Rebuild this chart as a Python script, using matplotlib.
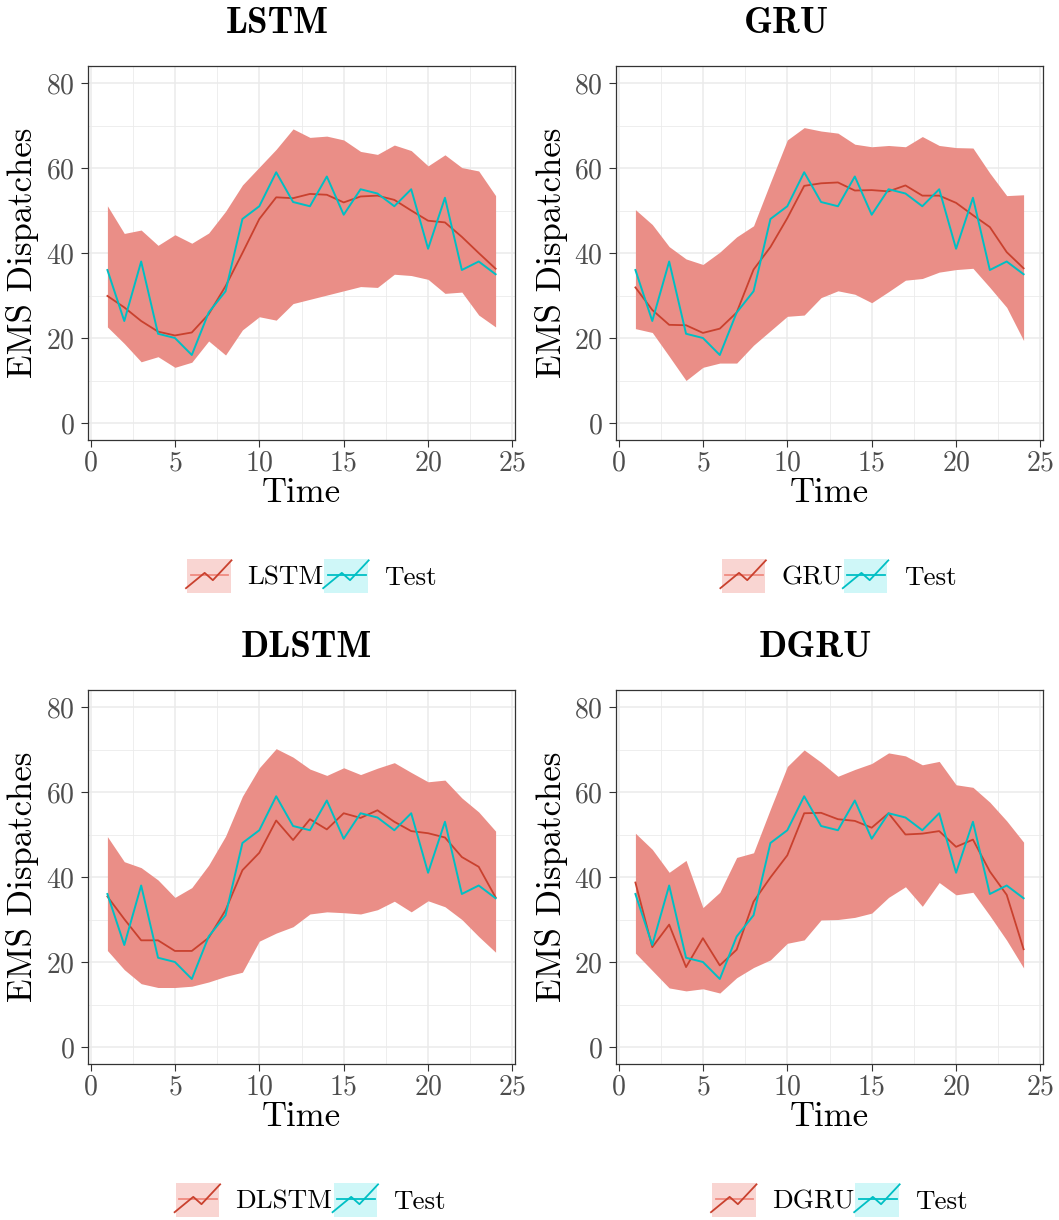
import matplotlib
matplotlib.use("Agg")
import matplotlib.pyplot as plt
from matplotlib.legend_handler import HandlerBase
from matplotlib.patches import Rectangle
from matplotlib.lines import Line2D
from matplotlib.ticker import MultipleLocator

plt.rcParams["font.family"] = ["cmr10"]
plt.rcParams["axes.formatter.use_mathtext"] = True
plt.rcParams["mathtext.fontset"] = "cm"

# ---- data -------------------------------------------------------------
hours = list(range(1, 25))

test = [36, 24, 38, 21, 20, 16, 26, 31, 48, 51, 59, 52,
        51, 58, 49, 55, 54, 51, 55, 41, 53, 36, 38, 35]

lstm_pred = [29.9, 27.2, 24.0, 21.5, 20.6, 21.3, 25.6, 32.2, 40.0, 48.0, 53.1, 52.9,
             53.9, 53.7, 51.9, 53.3, 53.5, 52.5, 50.0, 47.6, 47.2, 43.8, 40.0, 36.3]
lstm_upper = [51.1, 44.6, 45.4, 41.8, 44.3, 42.3, 44.7, 49.8, 56.0, 60.2, 64.4, 69.2,
              67.2, 67.5, 66.6, 63.9, 63.2, 65.4, 64.1, 60.5, 63.1, 60.1, 59.3, 53.5]
lstm_lower = [22.6, 18.7, 14.4, 15.6, 13.1, 14.3, 19.3, 16.0, 21.9, 25.0, 24.2, 28.1,
              29.1, 30.1, 31.1, 32.1, 31.9, 35.0, 34.7, 33.8, 30.5, 30.8, 25.4, 22.6]

gru_pred = [31.9, 26.6, 23.1, 23.0, 21.2, 22.2, 26.0, 36.1, 41.4, 48.2, 55.8, 56.4,
            56.6, 54.7, 54.8, 54.5, 55.9, 53.5, 53.5, 51.8, 48.9, 46.1, 40.2, 36.4]
gru_upper = [50.2, 46.7, 41.5, 38.6, 37.3, 40.2, 43.8, 46.4, 56.6, 66.6, 69.5, 68.7,
             68.2, 65.6, 65.0, 65.3, 65.0, 67.4, 65.3, 64.8, 64.7, 58.8, 53.5, 53.7]
gru_lower = [22.2, 21.3, 15.7, 10.0, 13.1, 14.1, 14.1, 18.3, 21.7, 25.1, 25.4, 29.5,
             31.1, 30.3, 28.3, 30.9, 33.6, 34.0, 35.5, 36.1, 36.4, 31.9, 27.2, 19.4]

dlstm_pred = [35.4, 30.1, 25.1, 25.1, 22.6, 22.6, 25.7, 32.2, 41.6, 45.7, 53.3, 48.7,
              53.6, 51.2, 55.0, 53.9, 55.7, 53.0, 50.8, 50.3, 49.3, 44.7, 42.4, 35.2]
dlstm_upper = [49.5, 43.6, 42.2, 39.3, 35.2, 37.5, 42.8, 49.6, 59.0, 65.7, 70.2, 68.2,
               65.4, 63.9, 65.7, 64.1, 65.6, 66.9, 64.6, 62.4, 62.8, 58.6, 55.3, 50.8]
dlstm_lower = [22.7, 18.2, 14.9, 14.0, 14.0, 14.3, 15.3, 16.6, 17.6, 24.9, 26.8, 28.3,
               31.3, 31.8, 31.6, 31.3, 32.3, 34.3, 31.8, 34.4, 33.0, 30.0, 26.0, 22.3]

dgru_pred = [38.7, 23.5, 28.8, 18.8, 25.6, 19.2, 22.9, 34.2, 39.9, 45.1, 55.0, 55.1,
             53.6, 53.2, 51.6, 55.0, 50.0, 50.2, 50.8, 47.1, 48.8, 41.3, 35.8, 23.0]
dgru_upper = [50.3, 46.5, 41.1, 43.9, 32.8, 36.4, 44.6, 45.7, 56.0, 66.0, 69.9, 67.0,
              63.7, 65.3, 66.7, 69.2, 68.5, 66.4, 67.2, 61.7, 61.1, 57.6, 53.2, 48.2]
dgru_lower = [22.1, 18.0, 13.9, 13.2, 13.7, 12.7, 16.3, 18.7, 20.5, 24.4, 25.2, 29.9,
              30.0, 30.5, 31.5, 35.2, 37.7, 33.1, 38.7, 35.8, 36.4, 30.9, 25.1, 18.6]

models = ["LSTM", "GRU", "DLSTM", "DGRU"]
preds = [lstm_pred, gru_pred, dlstm_pred, dgru_pred]
uppers = [lstm_upper, gru_upper, dlstm_upper, dgru_upper]
lowers = [lstm_lower, gru_lower, dlstm_lower, dgru_lower]

# ---- styling ----------------------------------------------------------
BAND = "#EA8E87"
PRED = "#C9412E"
TEST = "#00BFC4"
KEY_PRED_FILL = "#F9D5D2"
KEY_TEST_FILL = "#CFF7F8"
GRID = "#EBEBEB"
FRAME = "#333333"
TICKTXT = "#4D4D4D"

W, H = 1059, 1220


class SeriesKey(HandlerBase):
    """Legend key: shaded square with a flat line and a zig-zag line."""

    def __init__(self, fill, flat, zig):
        super().__init__()
        self.fill, self.flat, self.zig = fill, flat, zig

    def create_artists(self, legend, orig_handle, xdescent, ydescent,
                       width, height, fontsize, trans):
        x0, y0 = -xdescent, -ydescent
        rect = Rectangle((x0, y0), width, height, facecolor=self.fill,
                         edgecolor="none", transform=trans)
        flat = Line2D([x0 + 0.075 * width, x0 + 0.95 * width],
                      [y0 + 0.52 * height] * 2, color=self.flat, lw=1.3,
                      transform=trans)
        zx = [x0 - 0.03 * width, x0 + 0.40 * width, x0 + 0.59 * width, x0 + 1.02 * width]
        zy = [y0 + 0.15 * height, y0 + 0.59 * height, y0 + 0.38 * height, y0 + 0.95 * height]
        zig = Line2D(zx, zy, color=self.zig, lw=1.3, transform=trans)
        return [rect, flat, zig]


fig = plt.figure(figsize=(W / 100, H / 100), dpi=100)

# panel boxes in pixels: left, top, right, bottom
boxes = [(88, 66, 515, 440), (616, 66, 1043, 440),
         (88, 690, 515, 1064), (616, 690, 1043, 1064)]
title_pos = [(277, 23.5), (786, 23.5), (306, 648), (815, 648)]
legend_pos = [(312, 576), (839, 576), (311, 1200), (840, 1200)]

for i, name in enumerate(models):
    l, t, r, b = boxes[i]
    ax = fig.add_axes([l / W, 1 - b / H, (r - l) / W, (b - t) / H])

    ax.fill_between(hours, lowers[i], uppers[i], color=BAND, lw=0, zorder=2)
    pred_line, = ax.plot(hours, preds[i], color=PRED, lw=1.3, zorder=3)
    test_line, = ax.plot(hours, test, color=TEST, lw=1.4, zorder=4)

    ax.set_xlim(-0.15, 25.15)
    ax.set_ylim(-4, 84)
    ax.xaxis.set_major_locator(MultipleLocator(5))
    ax.xaxis.set_minor_locator(MultipleLocator(2.5))
    ax.yaxis.set_major_locator(MultipleLocator(20))
    ax.yaxis.set_minor_locator(MultipleLocator(10))
    ax.grid(which="major", color=GRID, lw=1.1, zorder=0)
    ax.grid(which="minor", color=GRID, lw=0.6, zorder=0)
    ax.set_axisbelow(True)
    ax.tick_params(which="minor", length=0)
    ax.tick_params(which="major", length=5, width=0.8, color=FRAME,
                   labelsize=20, labelcolor=TICKTXT)
    ax.tick_params(axis="x", pad=2.5)
    ax.tick_params(axis="y", pad=4.5)
    for s in ax.spines.values():
        s.set_color(FRAME)
        s.set_linewidth(0.9)

    ax.set_xlabel("Time", fontsize=25, va="center")
    ax.xaxis.set_label_coords(0.5, -53 / (b - t))
    ax.set_ylabel("EMS Dispatches", fontsize=25, va="center")
    ax.yaxis.set_label_coords(-65 / (r - l), 0.5)

    tx, ty = title_pos[i]
    fig.text(tx / W, 1 - ty / H, name, fontsize=26.5, family="cmb10",
             ha="center", va="center")

    lx, ly = legend_pos[i]
    fig.legend(handles=[pred_line, test_line], labels=[name, "Test"],
               handler_map={pred_line: SeriesKey(KEY_PRED_FILL, "#F08A80", PRED),
                            test_line: SeriesKey(KEY_TEST_FILL, TEST, TEST)},
               loc="center", bbox_to_anchor=(lx / W, 1 - ly / H),
               bbox_transform=fig.transFigure, ncol=2, frameon=False,
               fontsize=19.5, handlelength=1.6, handleheight=1.6,
               handletextpad=0.6, columnspacing=0.05, borderpad=0)

fig.savefig("out.png", dpi=100)
